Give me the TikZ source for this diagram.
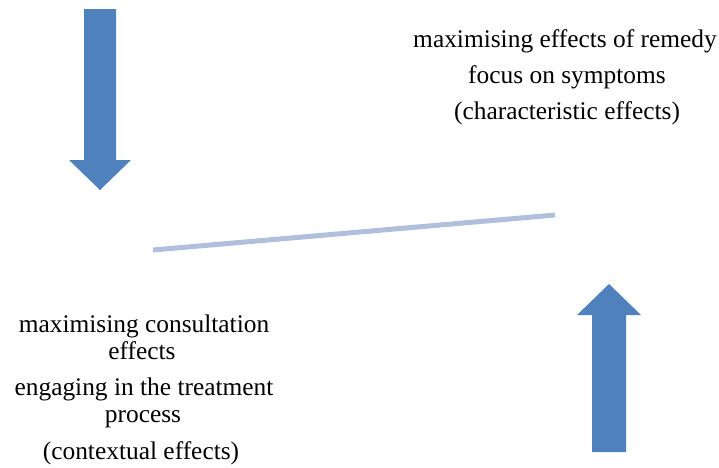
\documentclass[tikz,border=0pt]{standalone}
\usepackage{fontspec}
\setmainfont{Liberation Serif}
\definecolor{arrowblue}{HTML}{4F81BD}
\definecolor{lineblue}{HTML}{B0C0DC}
\begin{document}
\begin{tikzpicture}[x=1pt,y=-1pt,
  lbl/.style={anchor=base,inner sep=0pt,font=\fontsize{25.4}{27}\selectfont,text=black},
  bigarrow/.style={fill=arrowblue,draw=none},
  link/.style={draw=lineblue,line width=5pt}]
\useasboundingbox (0,0) rectangle (719,467);
% down arrow
\fill[bigarrow] (84,9) -- (116,9) -- (116,160) -- (131,160) -- (100,190) -- (69,160) -- (84,160) -- cycle;
% up arrow
\fill[bigarrow] (592,452) -- (626,452) -- (626,315) -- (641,315) -- (609,284) -- (577,315) -- (592,315) -- cycle;
% line
\coordinate (l1) at (153,250);
\coordinate (l2) at (555,215);
\draw[link] (l1) -- (l2);
% top right text
\node[lbl] (t1) at (565,47) {maximising effects of remedy};
\node[lbl] (t2) at (567,83) {focus on symptoms};
\node[lbl] (t3) at (567,119) {(characteristic effects)};
% bottom left text
\node[lbl] (b1) at (144,332) {maximising consultation};
\node[lbl] (b2) at (142,359) {effects};
\node[lbl] (b3) at (144,395) {engaging in the treatment};
\node[lbl] (b4) at (143,422) {process};
\node[lbl] (b5) at (141,459) {(contextual effects)};
\end{tikzpicture}
\end{document}
